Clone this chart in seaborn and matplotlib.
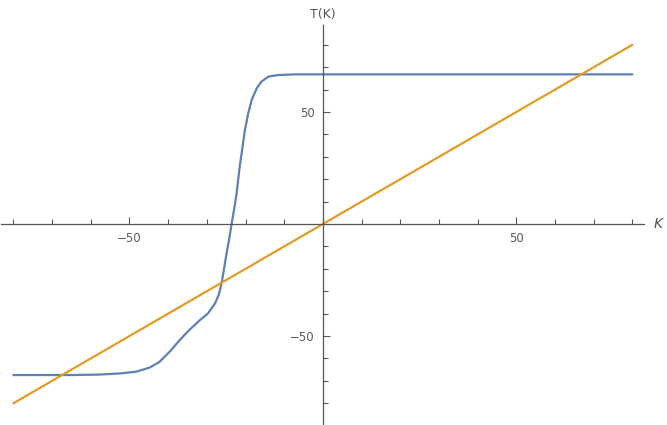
import numpy as np
import seaborn as sns
import matplotlib.pyplot as plt
from matplotlib.ticker import MultipleLocator

# values
k_blue = [-80, -65, -58, -52.5, -48.2, -44.7, -42.2, -39.6, -37.0, -35.6,
          -34.4, -33.1, -31.8, -29.7, -27.9, -26.9, -26.2, -25.5, -24.9,
          -24.2, -23.6, -22.9, -22.3, -21.5, -20.6, -20.2, -19.3, -18.4,
          -17.1, -15.9, -14.1, -11.6, -7.2, 0, 80]
t_blue = [-67.4, -67.4, -67.2, -66.7, -65.9, -64.0, -61.5, -57.0, -51.8, -49.2,
          -47.1, -45.0, -42.9, -39.9, -35.5, -31.5, -26.5, -19.5, -13.1,
          -6.5, 0, 7.0, 13.7, 25.6, 36.5, 41.5, 49.4, 55.4,
          60.6, 63.5, 65.8, 66.5, 66.8, 66.8, 66.8]
k_line = [-80, 80]
t_line = [-80, 80]

x_ticks = [-50, 50]
y_ticks = [-50, 50]

sns.set_style('white')
plt.rcParams['font.family'] = ['DejaVu Sans']

fig = plt.figure(figsize=(6.67, 4.25), dpi=100)
ax = fig.add_axes([0.0015, 0.0, 0.964, 0.941])

sns.lineplot(x=k_blue, y=t_blue, color='#5E81B5', linewidth=1.6, ax=ax,
             solid_joinstyle='round')
sns.lineplot(x=k_line, y=t_line, color='#E19C24', linewidth=1.6, ax=ax)

ax.set_xlim(-83.2, 83)
ax.set_ylim(-89.7, 88.8)

axis_col = '#555555'
for side in ['top', 'right']:
    ax.spines[side].set_visible(False)
for side in ['left', 'bottom']:
    ax.spines[side].set_position('zero')
    ax.spines[side].set_color(axis_col)
    ax.spines[side].set_linewidth(0.9)

ax.set_xticks(x_ticks)
ax.set_yticks(y_ticks)
ax.xaxis.set_minor_locator(MultipleLocator(10))
ax.yaxis.set_minor_locator(MultipleLocator(10))
ax.tick_params(which='both', direction='in', color=axis_col, width=0.8,
               labelcolor='#5a5a5a', labelsize=8.5)
ax.tick_params(which='major', length=5, pad=6)
ax.tick_params(which='minor', length=3.5)
ax.tick_params(axis='x', which='both', bottom=True, top=False)
ax.tick_params(axis='y', which='both', left=True, right=False)

ax.set_xlabel('')
ax.set_ylabel('')
ax.text(85.5, 0, 'K', fontsize=10, style='italic', color='#555555',
        ha='left', va='center', clip_on=False)
ax.text(0, 90.5, 'T(K)', fontsize=9, color='#555555',
        ha='center', va='bottom', clip_on=False)

plt.savefig('out.png', dpi=100)
plt.close()
